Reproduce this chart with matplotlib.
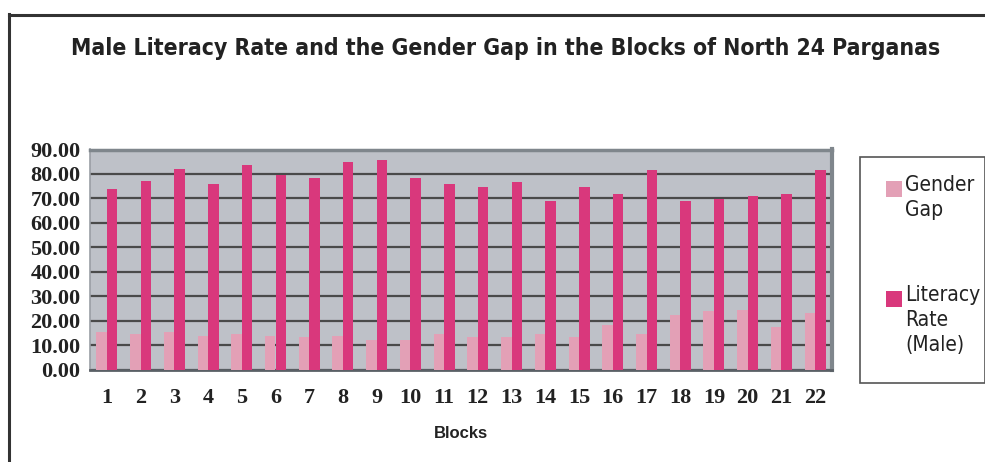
import numpy as np
import matplotlib
matplotlib.use("Agg")
import matplotlib.pyplot as plt
from matplotlib.patches import Rectangle
from matplotlib.lines import Line2D

# ---------------------------------------------------------------------------
# Data
# ---------------------------------------------------------------------------
blocks = [str(i) for i in range(1, 23)]
gender_gap = [15.4, 14.5, 15.4, 13.7, 14.5, 13.7, 13.3, 13.7, 12.0, 12.0, 14.5,
              13.3, 13.3, 14.5, 13.3, 18.2, 14.5, 22.3, 23.9, 24.3, 17.4, 23.1]
literacy_male = [74.0, 77.3, 82.2, 76.0, 83.8, 79.7, 78.5, 84.7, 85.9, 78.5, 76.0,
                 74.8, 76.9, 69.1, 74.8, 71.9, 81.8, 69.1, 69.9, 71.1, 71.9, 81.8]
series_names = ["Gender\nGap", "Literacy\nRate\n(Male)"]
y_ticks = [0, 10, 20, 30, 40, 50, 60, 70, 80, 90]

GAP_COLOR = "#E3A0B6"
LIT_COLOR = "#D9387C"
PLOT_BG = "#BEC1C8"
FRAME = "#7F868C"
GRID = "#4A4A4A"
NARROW = dict(family="DejaVu Sans", stretch="condensed")

W, H = 985, 462
fig = plt.figure(figsize=(W / 100, H / 100), dpi=100)
fig.patch.set_facecolor("white")


def fx(px):
    return px / W


def fy(py):
    return 1 - py / H


# plot area in pixels: x 90..832, y 149.5..369.5
ax = fig.add_axes([fx(90), fy(369.5), fx(832) - fx(90), fy(149.5) - fy(369.5)])
ax.set_facecolor(PLOT_BG)

x = np.arange(len(blocks))
bw = 0.31
ax.bar(x - bw / 2, gender_gap, width=bw, color=GAP_COLOR, zorder=3)
ax.bar(x + bw / 2, literacy_male, width=bw, color=LIT_COLOR, zorder=3)

ax.set_xlim(-0.5, len(blocks) - 0.5)
ax.set_ylim(0, 90)
ax.set_yticks(y_ticks)
ax.set_yticklabels([f"{v:.2f}" for v in y_ticks],
                   fontfamily="Liberation Serif", fontweight="bold",
                   fontsize=16, color="#222222")
ax.set_xticks(x)
ax.set_xticklabels(blocks, fontfamily="Liberation Serif", fontweight="bold",
                   fontsize=16, color="#222222")
ax.tick_params(axis="both", length=0)
ax.tick_params(axis="y", pad=7)
ax.tick_params(axis="x", pad=13)
ax.yaxis.grid(True, color=GRID, linewidth=1.6, zorder=1)
ax.set_axisbelow(True)

ax.set_xlabel("Blocks", fontfamily="Liberation Sans", fontweight="bold",
              fontsize=12, color="#222222", labelpad=13)

ax.spines["top"].set_color(FRAME)
ax.spines["top"].set_linewidth(2.5)
ax.spines["right"].set_color(FRAME)
ax.spines["right"].set_linewidth(3)
ax.spines["left"].set_color("#9A9EA4")
ax.spines["left"].set_linewidth(1.2)
ax.spines["bottom"].set_color("#5A6066")
ax.spines["bottom"].set_linewidth(2)

# title
fig.text(fx(506), fy(48), "Male Literacy Rate and the Gender Gap in the Blocks of North 24 Parganas",
         ha="center", va="center", fontsize=16.5, fontweight="bold",
         color="#222222", **NARROW)

# outer chart border (top and left)
fig.add_artist(Line2D([fx(9), fx(9)], [fy(14), 0], color="#333333", linewidth=2.2))
fig.add_artist(Line2D([fx(9), 1], [fy(15), fy(15)], color="#333333", linewidth=2.2))

# legend box
fig.add_artist(Rectangle((fx(860), fy(383)), fx(985) - fx(860), fy(157) - fy(383),
                         transform=fig.transFigure, facecolor="white",
                         edgecolor="#555555", linewidth=1.2))
for name, color, ytop in zip(series_names, [GAP_COLOR, LIT_COLOR], [181, 291]):
    fig.add_artist(Rectangle((fx(886), fy(ytop + 16)), fx(16), 16 / H,
                             transform=fig.transFigure, facecolor=color,
                             edgecolor="none"))
    fig.text(fx(905), fy(ytop - 6), name, ha="left", va="top", fontsize=15,
             color="#222222", linespacing=1.3, **NARROW)

fig.savefig("out.png", dpi=100)
